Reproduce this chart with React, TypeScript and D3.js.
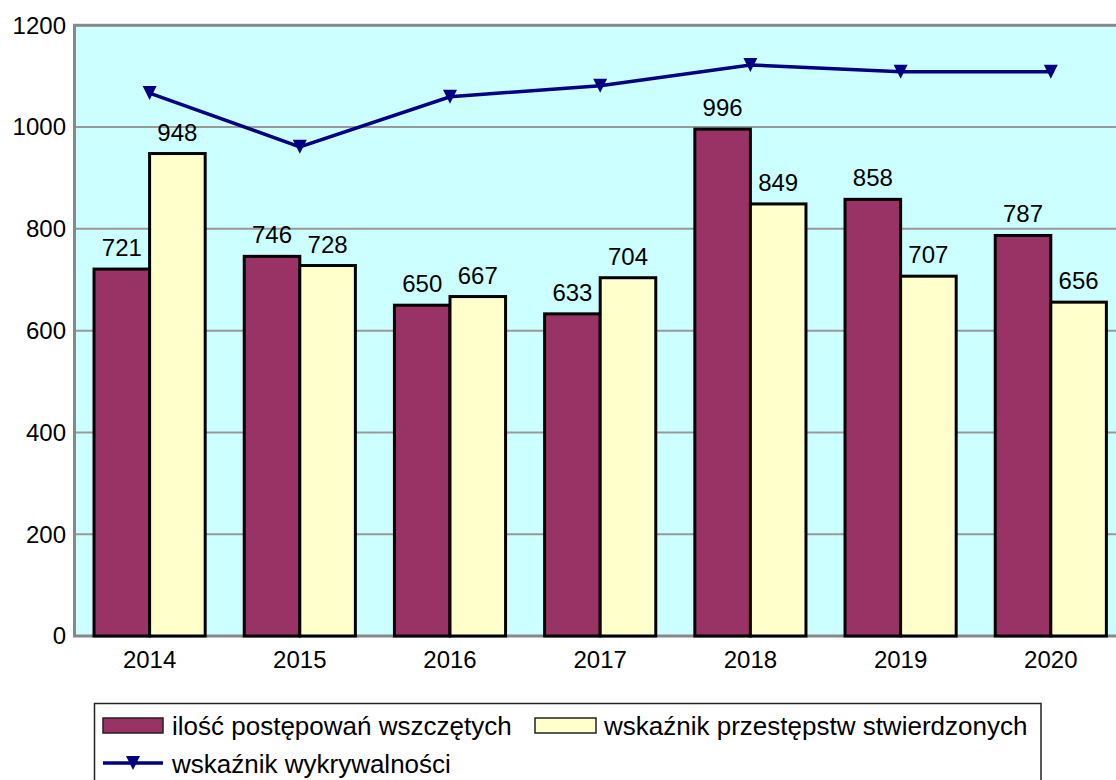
import React from "react";
import * as d3 from "d3";

const years = ["2014", "2015", "2016", "2017", "2018", "2019", "2020"];
const wszczete = [721, 746, 650, 633, 996, 858, 787];
const stwierdzone = [948, 728, 667, 704, 849, 707, 656];
const wykrywalnosc = [88.9, 80.1, 88.3, 90.1, 93.5, 92.4, 92.4];
const yTicks = [0, 200, 400, 600, 800, 1000, 1200];

const seriesNames = [
  "ilość postępowań wszczętych",
  "wskaźnik przestępstw stwierdzonych",
  "wskaźnik wykrywalności",
];

const W = 1116;
const H = 780;
const left = 74.5;
const top = 25.3;
const bottom = 636;
const right = left + 150.2 * 7;
const font = "'Liberation Sans', Arial, sans-serif";

export default function App() {
  const x = d3.scaleBand().domain(years).range([left, right]).paddingInner(0.26).paddingOuter(0.13);
  const y = d3.scaleLinear().domain([0, 1200]).range([bottom, top]);
  const y2 = d3.scaleLinear().domain([0, 100]).range([bottom, top]);
  const bw = x.bandwidth() / 2;
  const line = d3
    .line<number>()
    .x((_, i) => (x(years[i]) as number) + x.bandwidth() / 2)
    .y((d) => y2(d));
  const tri = (cx: number, cy: number, s = 7) =>
    `M${cx - s},${cy - s} L${cx + s},${cy - s} L${cx},${cy + s} Z`;

  return (
    <svg width={W} height={H} style={{ position: "absolute", left: 0, top: 0 }} fontFamily={font}>
      <rect x={0} y={0} width={W} height={H} fill="#fff" />
      <rect x={left} y={top} width={right - left} height={bottom - top} fill="#ccffff" />
      {yTicks.slice(1, -1).map((t) => (
        <line key={t} x1={left} x2={right} y1={y(t)} y2={y(t)} stroke="#999" strokeWidth={2} />
      ))}
      <rect x={left} y={top} width={right - left} height={bottom - top} fill="none" stroke="#888" strokeWidth={3} />
      {yTicks.map((t) => (
        <text key={t} x={66} y={y(t)} dy="0.35em" textAnchor="end" fontSize={24} fill="#000">
          {t}
        </text>
      ))}
      {years.map((yr, i) => {
        const x0 = x(yr) as number;
        return (
          <g key={yr}>
            <rect x={x0} y={y(wszczete[i])} width={bw} height={bottom - y(wszczete[i])} fill="#993366" stroke="#000" strokeWidth={3} />
            <rect x={x0 + bw} y={y(stwierdzone[i])} width={bw} height={bottom - y(stwierdzone[i])} fill="#ffffcc" stroke="#000" strokeWidth={3} />
            <text x={x0 + bw / 2} y={y(wszczete[i]) - 13} textAnchor="middle" fontSize={24}>{wszczete[i]}</text>
            <text x={x0 + bw * 1.5} y={y(stwierdzone[i]) - 13} textAnchor="middle" fontSize={24}>{stwierdzone[i]}</text>
            <text x={x0 + bw} y={668} textAnchor="middle" fontSize={24}>{yr}</text>
          </g>
        );
      })}
      <path d={line(wykrywalnosc) || ""} fill="none" stroke="#000080" strokeWidth={3.5} />
      {wykrywalnosc.map((v, i) => (
        <path key={i} d={tri((x(years[i]) as number) + x.bandwidth() / 2, y2(v))} fill="#000080" />
      ))}
      <rect x={94.5} y={703.5} width={946.5} height={120} fill="#fff" stroke="#222" strokeWidth={1.5} />
      <rect x={103} y={718} width={60} height={15} fill="#993366" stroke="#222" strokeWidth={1.5} />
      <text x={172} y={735} fontSize={26}>{seriesNames[0]}</text>
      <rect x={535} y={718} width={61} height={15} fill="#ffffcc" stroke="#222" strokeWidth={1.5} />
      <text x={604} y={735} fontSize={26}>{seriesNames[1]}</text>
      <line x1={103} x2={163} y1={763} y2={763} stroke="#000080" strokeWidth={3.5} />
      <path d={tri(133, 763)} fill="#000080" />
      <text x={172} y={773} fontSize={26}>{seriesNames[2]}</text>
    </svg>
  );
}
